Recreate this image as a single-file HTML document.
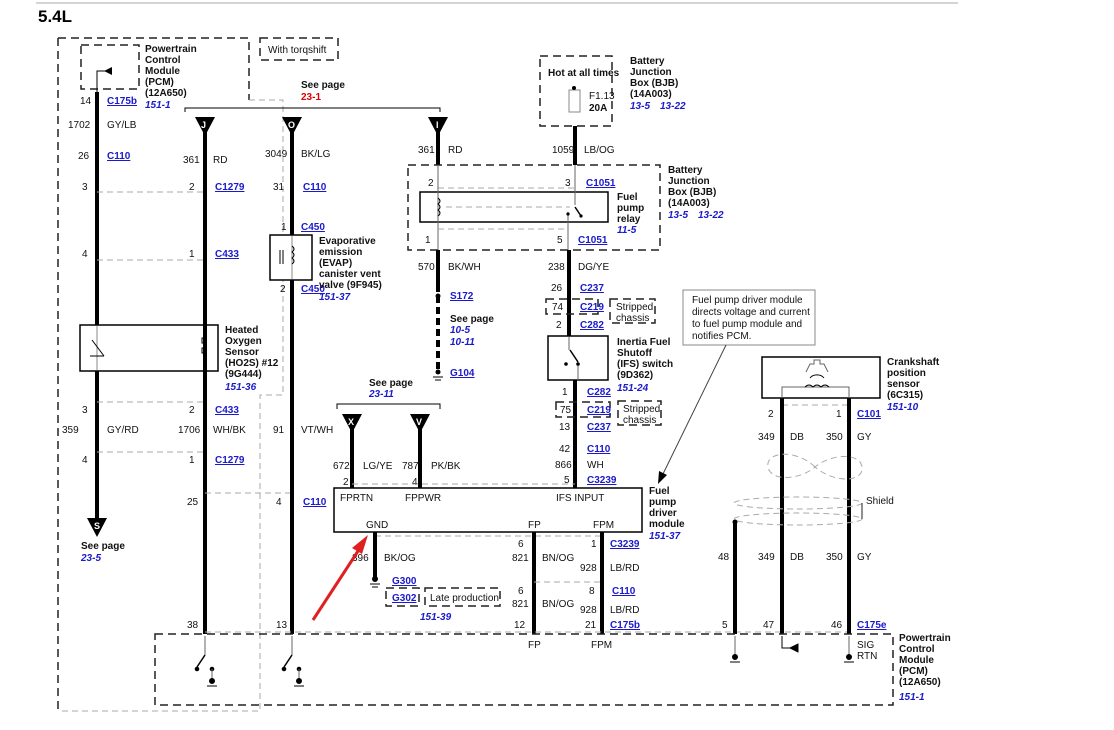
<!DOCTYPE html>
<html><head><meta charset="utf-8"><style>
html,body{margin:0;padding:0;background:#fff;}
svg{display:block;font-family:"Liberation Sans",Arial,sans-serif;}
.t{font-size:10px;fill:#111;}
.b{font-size:10px;font-weight:bold;fill:#111;}
.c{font-size:10px;font-weight:bold;fill:#1a1acc;text-decoration:underline;}
.r{font-size:10px;font-weight:bold;font-style:italic;fill:#1a1acc;}
.w{stroke:#000;stroke-width:4;fill:none;}
.tn{stroke:#555;stroke-width:1;fill:none;}
.dg{stroke:#aaa;stroke-width:1;stroke-dasharray:6,4;fill:none;}
.dk{stroke:#222;stroke-width:1.5;stroke-dasharray:8,5;fill:none;}
</style></head><body>
<svg width="1114" height="730" viewBox="0 0 1114 730">
<line x1="36" y1="3" x2="958" y2="3" stroke="#aaa"/>
<text x="38" y="22" style="font-size:17px;font-weight:bold">5.4L</text>

<!-- outer left dashed region -->
<path class="dk" d="M58 38 H249 V100 M58 38 V711" stroke-width="1.2"/>
<path class="dg" d="M249 100 H283 V395 H260 V711 H58" stroke="#999"/>
<rect x="260" y="38" width="78" height="22" class="dk" stroke-width="1"/>
<text class="t" x="268" y="53">With torqshift</text>

<!-- PCM top -->
<rect x="81" y="45" width="58" height="44" class="dk"/>
<path d="M97 95 V71 H108" stroke="#000" fill="none"/>
<polygon points="104,71 112,67 112,75" fill="#000"/>
<text class="b" x="145" y="52">Powertrain</text><text class="b" x="145" y="63">Control</text><text class="b" x="145" y="74">Module</text><text class="b" x="145" y="85">(PCM)</text><text class="b" x="145" y="96">(12A650)</text>
<text class="r" x="145" y="108">151-1</text>
<text class="t" x="80" y="104">14</text><text class="c" x="107" y="104">C175b</text>

<!-- wire PCM 97 -->
<line class="w" x1="97" y1="92" x2="97" y2="520"/>
<text class="t" x="68" y="128">1702</text><text class="t" x="107" y="128">GY/LB</text>
<text class="t" x="78" y="159">26</text><text class="c" x="107" y="159">C110</text>
<text class="t" x="82" y="190">3</text><text class="t" x="189" y="190">2</text><text class="c" x="215" y="190">C1279</text>
<line class="dg" x1="97" y1="192" x2="205" y2="192"/>
<text class="t" x="82" y="257">4</text><text class="t" x="189" y="257">1</text><text class="c" x="215" y="257">C433</text>
<line class="dg" x1="97" y1="260" x2="205" y2="260"/>
<rect x="80" y="325" width="138" height="46" fill="#fff" stroke="#000" stroke-width="1.5"/>
<line x1="97" y1="326" x2="97" y2="370" stroke="#888"/><line x1="205" y1="326" x2="205" y2="370" stroke="#888"/>
<line x1="92" y1="340" x2="104" y2="356" stroke="#000"/><line x1="90" y1="356" x2="104" y2="356" stroke="#000"/>
<path d="M205 338 h-3 v5 h3 v5 h-3 v5 h3" stroke="#000" fill="none"/>
<text class="b" x="225" y="333">Heated</text><text class="b" x="225" y="344">Oxygen</text><text class="b" x="225" y="355">Sensor</text><text class="b" x="225" y="366">(HO2S) #12</text><text class="b" x="225" y="377">(9G444)</text>
<text class="r" x="225" y="390">151-36</text>
<line class="dg" x1="97" y1="402" x2="205" y2="402"/>
<text class="t" x="82" y="413">3</text><text class="t" x="189" y="413">2</text><text class="c" x="215" y="413">C433</text>
<text class="t" x="62" y="433">359</text><text class="t" x="107" y="433">GY/RD</text>
<text class="t" x="178" y="433">1706</text><text class="t" x="213" y="433">WH/BK</text>
<line class="dg" x1="97" y1="452" x2="205" y2="452"/>
<text class="t" x="82" y="463">4</text><text class="t" x="189" y="463">1</text><text class="c" x="215" y="463">C1279</text>
<polygon points="87,518 107,518 97,537" fill="#000"/><text x="94" y="529" style="font-size:9px;font-weight:bold;fill:#fff">S</text>
<text class="b" x="81" y="549">See page</text><text class="r" x="81" y="561">23-5</text>

<!-- J wire -->
<path d="M185 112 V108 H440 V112" stroke="#000" fill="none"/>
<text class="b" x="301" y="88">See page</text><text x="301" y="100" style="font-size:10px;font-weight:bold;fill:#d00">23-1</text>
<polygon points="195,117 215,117 205,136" fill="#000"/><text x="201" y="128" style="font-size:9px;font-weight:bold;fill:#fff">J</text>
<line class="w" x1="205" y1="130" x2="205" y2="634"/>
<text class="t" x="183" y="163">361</text><text class="t" x="213" y="163">RD</text>
<line class="dg" x1="205" y1="493" x2="292" y2="493"/>
<text class="t" x="187" y="505">25</text><text class="t" x="276" y="505">4</text><text class="c" x="303" y="505">C110</text>
<text class="t" x="187" y="628">38</text>

<!-- O wire -->
<polygon points="282,117 302,117 292,136" fill="#000"/><text x="288" y="128" style="font-size:9px;font-weight:bold;fill:#fff">O</text>
<line class="w" x1="292" y1="130" x2="292" y2="634"/>
<text class="t" x="265" y="157">3049</text><text class="t" x="301" y="157">BK/LG</text>
<text class="t" x="273" y="190">31</text><text class="c" x="303" y="190">C110</text>
<text class="t" x="281" y="230">1</text><text class="c" x="301" y="230">C450</text>
<rect x="270" y="235" width="42" height="45" fill="#fff" stroke="#000" stroke-width="1.5"/>
<line x1="292" y1="236" x2="292" y2="279" stroke="#888"/>
<path d="M292 246 q4 3 0 6 q4 3 0 6 q4 3 0 6" stroke="#000" fill="none"/>
<line x1="280" y1="250" x2="280" y2="264" stroke="#000"/><line x1="283" y1="250" x2="283" y2="264" stroke="#000"/>
<text class="t" x="280" y="292">2</text><text class="c" x="301" y="292">C450</text>
<text class="b" x="319" y="244">Evaporative</text><text class="b" x="319" y="255">emission</text><text class="b" x="319" y="266">(EVAP)</text><text class="b" x="319" y="277">canister vent</text><text class="b" x="319" y="288">valve (9F945)</text>
<text class="r" x="319" y="300">151-37</text>
<text class="t" x="273" y="433">91</text><text class="t" x="301" y="433">VT/WH</text>
<text class="t" x="276" y="628">13</text>

<!-- I wire and relay -->
<polygon points="428,117 448,117 438,136" fill="#000"/><text x="436" y="128" style="font-size:9px;font-weight:bold;fill:#fff">I</text>
<line class="w" x1="438" y1="130" x2="438" y2="165"/>
<text class="t" x="418" y="153">361</text><text class="t" x="448" y="153">RD</text>
<rect x="540" y="56" width="72" height="70" class="dk"/>
<text class="b" x="548" y="76">Hot at all times</text>
<rect x="569" y="90" width="11" height="22" fill="#fff" stroke="#888"/>
<circle cx="574" cy="88" r="2" fill="#000"/>
<text class="t" x="589" y="99">F1.13</text><text class="b" x="589" y="111">20A</text>
<text class="b" x="630" y="64">Battery</text><text class="b" x="630" y="75">Junction</text><text class="b" x="630" y="86">Box (BJB)</text><text class="b" x="630" y="97">(14A003)</text>
<text class="r" x="630" y="109">13-5</text><text class="r" x="660" y="109">13-22</text>
<line class="w" x1="575" y1="126" x2="575" y2="165"/>
<text class="t" x="552" y="153">1059</text><text class="t" x="584" y="153">LB/OG</text>
<rect x="408" y="165" width="252" height="85" class="dk"/>
<text class="t" x="428" y="186">2</text><text class="t" x="565" y="186">3</text><text class="c" x="586" y="186">C1051</text>
<line class="dg" x1="438" y1="188" x2="575" y2="188"/>
<rect x="420" y="192" width="188" height="30" fill="#fff" stroke="#000" stroke-width="1.5"/>
<line x1="438" y1="165" x2="438" y2="250" stroke="#666"/>
<line x1="575" y1="165" x2="575" y2="205" stroke="#666"/><line x1="568" y1="212" x2="568" y2="250" stroke="#666"/>
<path d="M438 198 q4 3 0 6 q4 3 0 6 q4 3 0 6" stroke="#000" fill="none"/>
<line class="dg" x1="446" y1="207" x2="570" y2="207"/>
<line x1="575" y1="207" x2="581" y2="216" stroke="#000" stroke-width="1.5"/><circle cx="568" cy="214" r="1.6"/><circle cx="581" cy="216" r="1.6"/>
<line class="dg" x1="438" y1="229" x2="568" y2="229"/>
<text class="t" x="425" y="243">1</text><text class="t" x="557" y="243">5</text><text class="c" x="578" y="243">C1051</text>
<text class="b" x="617" y="200">Fuel</text><text class="b" x="617" y="211">pump</text><text class="b" x="617" y="222">relay</text><text class="r" x="617" y="233">11-5</text>
<text class="b" x="668" y="173">Battery</text><text class="b" x="668" y="184">Junction</text><text class="b" x="668" y="195">Box (BJB)</text><text class="b" x="668" y="206">(14A003)</text>
<text class="r" x="668" y="218">13-5</text><text class="r" x="698" y="218">13-22</text>
<line class="w" x1="438" y1="250" x2="438" y2="292"/>
<line x1="438" y1="296" x2="438" y2="370" stroke="#000" stroke-width="4" stroke-dasharray="7,4"/>
<circle cx="438" cy="296" r="2.5"/>
<text class="t" x="418" y="270">570</text><text class="t" x="448" y="270">BK/WH</text>
<text class="c" x="450" y="299">S172</text>
<text class="b" x="450" y="322">See page</text><text class="r" x="450" y="333">10-5</text><text class="r" x="450" y="345">10-11</text>
<circle cx="438" cy="372" r="2.5"/><path d="M433 377 h10 M435 380 h6" stroke="#000"/>
<text class="c" x="450" y="376">G104</text>

<!-- IFS chain -->
<line class="w" x1="569" y1="250" x2="569" y2="336"/>
<text class="t" x="548" y="270">238</text><text class="t" x="578" y="270">DG/YE</text>
<text class="t" x="551" y="291">26</text><text class="c" x="580" y="291">C237</text>
<rect x="546" y="299" width="52" height="15" class="dk" stroke-width="1"/>
<text class="t" x="552" y="310">74</text><text class="c" x="580" y="310">C219</text>
<rect x="610" y="299" width="45" height="24" class="dk" stroke-width="1"/>
<text class="t" x="616" y="310">Stripped</text><text class="t" x="616" y="321">chassis</text>
<text class="t" x="556" y="328">2</text><text class="c" x="580" y="328">C282</text>
<rect x="548" y="336" width="60" height="44" fill="#fff" stroke="#000" stroke-width="1.5"/>
<line x1="569" y1="337" x2="569" y2="350" stroke="#666"/><line x1="578" y1="365" x2="578" y2="380" stroke="#666"/>
<path d="M570 350 L578 362" stroke="#000" stroke-width="1.5"/><circle cx="566" cy="364" r="1.8"/><circle cx="578" cy="364" r="1.8"/>
<text class="b" x="617" y="345">Inertia Fuel</text><text class="b" x="617" y="356">Shutoff</text><text class="b" x="617" y="367">(IFS) switch</text><text class="b" x="617" y="378">(9D362)</text>
<text class="r" x="617" y="391">151-24</text>
<line class="w" x1="575" y1="380" x2="575" y2="488"/>
<text class="t" x="562" y="395">1</text><text class="c" x="587" y="395">C282</text>
<rect x="556" y="402" width="54" height="15" class="dk" stroke-width="1"/>
<text class="t" x="560" y="413">75</text><text class="c" x="587" y="413">C219</text>
<rect x="618" y="401" width="43" height="24" class="dk" stroke-width="1"/>
<text class="t" x="623" y="412">Stripped</text><text class="t" x="623" y="423">chassis</text>
<text class="t" x="559" y="430">13</text><text class="c" x="587" y="430">C237</text>
<text class="t" x="559" y="452">42</text><text class="c" x="587" y="452">C110</text>
<text class="t" x="555" y="468">866</text><text class="t" x="587" y="468">WH</text>
<text class="t" x="564" y="483">5</text><text class="c" x="587" y="483">C3239</text>

<!-- X / V -->
<path d="M337 409 V404 H440 V409" stroke="#000" fill="none"/>
<text class="b" x="369" y="386">See page</text><text class="r" x="369" y="397">23-11</text>
<polygon points="342,414 362,414 352,433" fill="#000"/><text x="348" y="425" style="font-size:9px;font-weight:bold;fill:#fff">X</text>
<polygon points="410,414 430,414 420,433" fill="#000"/><text x="416" y="425" style="font-size:9px;font-weight:bold;fill:#fff">V</text>
<line class="w" x1="352" y1="428" x2="352" y2="488"/><line class="w" x1="420" y1="428" x2="420" y2="488"/>
<text class="t" x="333" y="469">672</text><text class="t" x="363" y="469">LG/YE</text>
<text class="t" x="402" y="469">787</text><text class="t" x="431" y="469">PK/BK</text>
<text class="t" x="343" y="485">2</text><text class="t" x="412" y="485">4</text>
<line class="dg" x1="352" y1="484" x2="575" y2="484"/>

<!-- FPDM -->
<rect x="334" y="488" width="308" height="44" fill="#fff" stroke="#000" stroke-width="1.5"/>
<text class="t" x="340" y="501">FPRTN</text><text class="t" x="405" y="501">FPPWR</text><text class="t" x="556" y="501">IFS INPUT</text>
<text class="t" x="366" y="528">GND</text><text class="t" x="528" y="528">FP</text><text class="t" x="593" y="528">FPM</text>
<text class="b" x="649" y="494">Fuel</text><text class="b" x="649" y="505">pump</text><text class="b" x="649" y="516">driver</text><text class="b" x="649" y="527">module</text>
<text class="r" x="649" y="539">151-37</text>
<line class="dg" x1="375" y1="536" x2="602" y2="536"/>
<line class="w" x1="375" y1="532" x2="375" y2="577"/>
<circle cx="375" cy="579" r="3"/><path d="M370 584 h10 M372 587 h6" stroke="#000"/>
<text class="t" x="352" y="561">396</text><text class="t" x="384" y="561">BK/OG</text>
<text class="c" x="392" y="584">G300</text>
<rect x="386" y="588" width="33" height="18" class="dk" stroke-width="1"/><text class="c" x="392" y="601">G302</text>
<rect x="425" y="588" width="75" height="18" class="dk" stroke-width="1"/><text class="t" x="430" y="601">Late production</text>
<text class="r" x="420" y="620">151-39</text>
<line class="w" x1="534" y1="532" x2="534" y2="634"/><line class="w" x1="602" y1="532" x2="602" y2="634"/>
<text class="t" x="518" y="547">6</text><text class="t" x="591" y="547">1</text><text class="c" x="610" y="547">C3239</text>
<text class="t" x="512" y="561">821</text><text class="t" x="542" y="561">BN/OG</text>
<text class="t" x="580" y="571">928</text><text class="t" x="610" y="571">LB/RD</text>
<line class="dg" x1="534" y1="582" x2="602" y2="582"/>
<text class="t" x="518" y="594">6</text><text class="t" x="589" y="594">8</text><text class="c" x="612" y="594">C110</text>
<text class="t" x="512" y="607">821</text><text class="t" x="542" y="607">BN/OG</text>
<text class="t" x="580" y="613">928</text><text class="t" x="610" y="613">LB/RD</text>
<text class="t" x="514" y="628">12</text><text class="t" x="585" y="628">21</text><text class="c" x="610" y="628">C175b</text>
<line class="dg" x1="205" y1="632" x2="849" y2="632"/>

<!-- callout -->
<rect x="683" y="290" width="132" height="55" fill="#fff" stroke="#888"/>
<text class="t" x="692" y="303">Fuel pump driver module</text><text class="t" x="692" y="315">directs voltage and current</text><text class="t" x="692" y="327">to fuel pump module and</text><text class="t" x="692" y="339">notifies PCM.</text>
<line x1="726" y1="345" x2="662" y2="476" stroke="#444"/>
<polygon points="658,484 659,471 667,475" fill="#000"/>

<!-- red arrow -->
<line x1="313" y1="620" x2="360" y2="548" stroke="#e02020" stroke-width="3"/>
<polygon points="368,535 352,548 362,554" fill="#e02020"/>

<!-- crank sensor -->
<rect x="762" y="357" width="118" height="41" fill="#fff" stroke="#000" stroke-width="1.5"/>
<path d="M782 398 V387 H849 V398" stroke="#666" fill="none"/>
<path d="M805 387 q4 -4 8 0 q4 -4 8 0 q4 -4 8 0" stroke="#000" fill="none"/>
<path d="M806 372 l4 -8 h4 v-4 h6 v4 h4 l4 8" stroke="#666" fill="none"/>
<path d="M810 378 a8 6 0 0 1 14 0" stroke="#000" fill="none"/>
<text class="b" x="887" y="365">Crankshaft</text><text class="b" x="887" y="376">position</text><text class="b" x="887" y="387">sensor</text><text class="b" x="887" y="398">(6C315)</text>
<text class="r" x="887" y="410">151-10</text>
<line class="dg" x1="782" y1="405" x2="849" y2="405"/>
<line class="w" x1="782" y1="398" x2="782" y2="634"/><line class="w" x1="849" y1="398" x2="849" y2="634"/>
<text class="t" x="768" y="417">2</text><text class="t" x="836" y="417">1</text><text class="c" x="857" y="417">C101</text>
<text class="t" x="758" y="440">349</text><text class="t" x="790" y="440">DB</text><text class="t" x="826" y="440">350</text><text class="t" x="857" y="440">GY</text>
<path d="M815 467 C795 448 765 452 768 467 C771 482 800 480 815 467 C830 454 860 452 862 467 C864 482 835 484 815 467" class="dg" stroke="#222" stroke-dasharray="5,3"/>
<ellipse cx="798" cy="503" rx="64" ry="6" class="dg" stroke="#222" stroke-dasharray="6,3"/>
<ellipse cx="798" cy="519" rx="64" ry="6" class="dg" stroke="#222" stroke-dasharray="6,3"/>
<line x1="862" y1="503" x2="862" y2="519" stroke="#222"/>
<text class="t" x="866" y="504">Shield</text>
<circle cx="735" cy="522" r="2.5"/>
<line class="w" x1="735" y1="522" x2="735" y2="634"/>
<text class="t" x="718" y="560">48</text><text class="t" x="758" y="560">349</text><text class="t" x="790" y="560">DB</text><text class="t" x="826" y="560">350</text><text class="t" x="857" y="560">GY</text>
<text class="t" x="722" y="628">5</text><text class="t" x="763" y="628">47</text><text class="t" x="831" y="628">46</text><text class="c" x="857" y="628">C175e</text>

<!-- bottom PCM -->
<path class="dk" d="M155 634 H893 V705 H155 Z" stroke-width="1.6"/>
<text class="t" x="528" y="648">FP</text><text class="t" x="591" y="648">FPM</text>
<text class="t" x="857" y="648">SIG</text><text class="t" x="857" y="659">RTN</text>
<text class="b" x="899" y="641">Powertrain</text><text class="b" x="899" y="652">Control</text><text class="b" x="899" y="663">Module</text><text class="b" x="899" y="674">(PCM)</text><text class="b" x="899" y="685">(12A650)</text>
<text class="r" x="899" y="700">151-1</text>
<g stroke="#000" fill="#000">
<line x1="205" y1="636" x2="205" y2="655" stroke="#666"/><line x1="205" y1="655" x2="197" y2="667" stroke-width="1.5"/><circle cx="197" cy="669" r="1.8"/><circle cx="212" cy="669" r="1.8"/>
<line x1="212" y1="669" x2="212" y2="679" stroke="#666"/><circle cx="212" cy="681" r="2.5"/><path d="M207 686 h10" fill="none"/>
<line x1="292" y1="636" x2="292" y2="655" stroke="#666"/><line x1="292" y1="655" x2="284" y2="667" stroke-width="1.5"/><circle cx="284" cy="669" r="1.8"/><circle cx="299" cy="669" r="1.8"/>
<line x1="299" y1="669" x2="299" y2="679" stroke="#666"/><circle cx="299" cy="681" r="2.5"/><path d="M294 686 h10" fill="none"/>
<line x1="735" y1="636" x2="735" y2="655" stroke="#666"/><circle cx="735" cy="657" r="2.5"/><path d="M730 662 h10" fill="none"/>
<line x1="849" y1="636" x2="849" y2="655" stroke="#666"/><circle cx="849" cy="657" r="2.5"/><path d="M844 662 h10" fill="none"/>
<path d="M782 636 V648 H793" fill="none"/><polygon points="790,648 798,644 798,652"/>
</g>
</svg>
</body></html>
